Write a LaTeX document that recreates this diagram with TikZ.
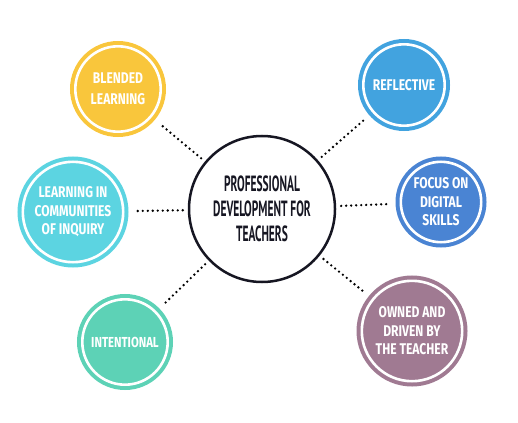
\documentclass[tikz,border=0pt]{standalone}
\usepackage{fontspec}
\usepackage{xcolor}
\usetikzlibrary{positioning}
\definecolor{bubbleyellow}{RGB}{249,198,60}
\definecolor{bubblecyan}{RGB}{92,212,225}
\definecolor{bubbleteal}{RGB}{93,210,182}
\definecolor{bubblesky}{RGB}{66,163,223}
\definecolor{bubbleblue}{RGB}{74,132,211}
\definecolor{bubblemauve}{RGB}{160,122,146}
\definecolor{hubink}{RGB}{22,22,34}
\newfontfamily\bubblefont[FakeStretch=0.78]{Fira Sans}
\newfontfamily\hubfont[FakeStretch=0.52]{PT Sans}

\begin{document}
\begin{tikzpicture}[x=1pt, y=-1pt]

\tikzstyle{bubble} = [circle, fill=#1, draw=#1, double=white, double distance=2.6pt, line width=4pt, inner sep=0pt, text=white, align=center, font=\bubblefont\bfseries\fontsize{15.5}{18.5}\selectfont];
\tikzstyle{hub} = [circle, draw=hubink, line width=2.5pt, fill=white, minimum size=146pt, inner sep=0pt, align=center, text=hubink, font=\hubfont\bfseries\fontsize{22}{25}\selectfont];
\tikzstyle{dots} = [line width=2.6pt, line cap=round, dash pattern=on 0pt off 5pt, shorten <=5pt, shorten >=10pt];

\useasboundingbox (0,0) rectangle (518,422);

% Tengah
\node (hub) [hub] at (262,209) {PROFESSIONAL\\DEVELOPMENT FOR\\TEACHERS};

% Kiri
\node (blended) [bubble=bubbleyellow, minimum size=85.4pt] at (118,89) {BLENDED\\[2pt]LEARNING};
\node (inquiry) [bubble=bubblecyan, minimum size=100.4pt] at (73,212) {LEARNING IN\\COMMUNITIES\\OF INQUIRY};
\node (intentional) [bubble=bubbleteal, minimum size=85.4pt, font=\bubblefont\bfseries\fontsize{14.5}{18}\selectfont] at (125,342) {INTENTIONAL};

% Kanan
\node (reflective) [bubble=bubblesky, minimum size=81.4pt] at (404,85) {REFLECTIVE};
\node (digital) [bubble=bubbleblue, minimum size=80.4pt] at (441,202) {FOCUS ON\\DIGITAL\\SKILLS};
\node (owned) [bubble=bubblemauve, minimum size=100.4pt] at (412,331) {OWNED AND\\DRIVEN BY\\THE TEACHER};

% Koneksi
\draw[dots] (hub) -- (blended);
\draw[dots] (hub) -- (inquiry);
\draw[dots] (hub) -- (intentional);
\draw[dots] (hub) -- (reflective);
\draw[dots] (hub) -- (digital);
\draw[dots] (hub) -- (owned);

\end{tikzpicture}
\end{document}
